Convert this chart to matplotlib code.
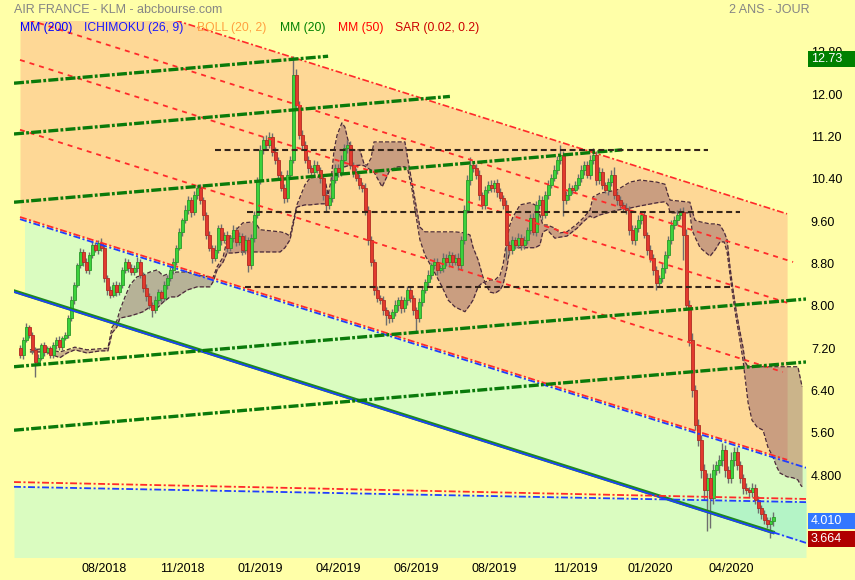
import matplotlib.pyplot as plt
import numpy as np
from matplotlib.patches import Rectangle
from matplotlib.transforms import blended_transform_factory

plt.rcParams['font.family'] = ['Liberation Sans', 'DejaVu Sans']
plt.rcParams['lines.scale_dashes'] = False

# --- daily candles (index = trading session, one bar every session shown) ---
first_open = 7.20
closes = [
    7.07, 7.36, 7.60, 7.45, 7.17, 6.94, 7.02, 7.26, 7.13, 7.20, 7.07, 7.26,
    7.36, 7.22, 7.39, 7.45, 7.77, 8.11, 8.40, 8.77, 9.02, 8.83, 8.68, 8.96,
    9.15, 9.06, 9.19, 9.10, 8.53, 8.30, 8.21, 8.40, 8.26, 8.40, 8.68, 8.83,
    8.72, 8.64, 8.72, 8.83, 8.58, 8.34, 8.19, 8.02, 7.92, 8.11, 8.26, 8.15,
    8.40, 8.53, 8.68, 8.83, 9.10, 9.40, 9.62, 9.81, 10.00, 9.78, 10.10, 10.23,
    10.00, 9.72, 9.34, 9.10, 8.91, 9.06, 9.47, 9.25, 9.34, 9.10, 9.28, 9.44,
    9.21, 9.32, 9.06, 9.25, 8.77, 9.28, 9.72, 10.38, 10.95, 11.14, 11.04, 11.19,
    10.91, 10.76, 10.47, 10.23, 10.04, 10.47, 10.76, 12.37, 11.80, 11.23, 11.04, 10.76,
    10.61, 10.53, 10.66, 10.57, 10.42, 10.10, 9.91, 10.04, 10.38, 10.61, 10.53, 10.76,
    10.98, 11.04, 10.66, 10.53, 10.42, 10.29, 10.23, 9.81, 9.25, 8.83, 8.30, 8.15,
    8.11, 7.92, 7.83, 7.77, 7.89, 8.02, 8.11, 7.96, 8.11, 8.30, 8.15, 7.92,
    7.77, 8.07, 8.30, 8.45, 8.58, 8.77, 8.83, 8.68, 8.72, 8.91, 8.83, 8.96,
    8.83, 8.91, 8.77, 9.25, 9.81, 10.38, 10.66, 10.61, 10.47, 10.10, 9.91, 10.19,
    10.29, 10.23, 10.32, 10.15, 10.04, 9.91, 9.15, 9.06, 9.25, 9.15, 9.28, 9.15,
    9.25, 9.44, 9.66, 9.40, 9.91, 10.00, 9.72, 10.10, 10.29, 10.42, 10.57, 10.76,
    10.85, 10.00, 10.10, 10.23, 10.19, 10.29, 10.42, 10.57, 10.66, 10.47, 10.76, 10.85,
    10.38, 10.53, 10.29, 10.19, 10.34, 10.47, 10.10, 10.00, 9.91, 9.85, 9.81, 9.44,
    9.25, 9.47, 9.62, 9.72, 9.34, 9.06, 8.91, 8.68, 8.43, 8.53, 8.72, 8.96,
    9.25, 9.53, 9.62, 9.72, 9.78, 9.34, 8.02, 7.36, 6.41, 5.75, 5.47, 4.90,
    4.52, 4.75, 4.37, 4.90, 4.99, 5.09, 5.28, 4.90, 4.75, 5.09, 5.24, 4.99,
    4.75, 4.56, 4.52, 4.48, 4.56, 4.33, 4.18, 4.07, 3.95, 3.88, 3.93, 4.01,
]
# shadows above / below the body, in cents
wick_hi = [
    6, 5, 8, 4, 6, 5, 7, 4, 6, 5, 4, 6,
    5, 7, 4, 6, 5, 8, 6, 5, 7, 6, 8, 5,
    7, 6, 5, 9, 6, 5, 8, 6, 7, 5, 6, 8,
    5, 7, 6, 9, 5, 6, 7, 5, 6, 8, 6, 5,
    7, 6, 5, 8, 6, 7, 5, 9, 8, 6, 7, 5,
    8, 6, 5, 7, 6, 9, 5, 8, 6, 7, 5, 8,
    6, 7, 5, 9, 6, 8, 7, 6, 10, 8, 9, 10,
    7, 9, 6, 8, 7, 9, 8, 36, 10, 8, 9, 7,
    8, 6, 9, 7, 6, 8, 7, 6, 9, 8, 7, 9,
    8, 10, 7, 6, 8, 7, 6, 9, 7, 8, 6, 7,
    6, 8, 5, 7, 6, 9, 5, 7, 6, 8, 7, 5,
    6, 8, 7, 6, 9, 5, 8, 7, 6, 9, 7, 8,
    6, 7, 9, 8, 10, 9, 15, 8, 7, 9, 6, 8,
    7, 9, 6, 8, 7, 6, 9, 7, 8, 6, 9, 7,
    8, 6, 7, 9, 8, 10, 7, 8, 9, 7, 10, 8,
    19, 8, 7, 9, 6, 8, 7, 9, 8, 7, 10, 13,
    8, 9, 7, 6, 8, 9, 16, 7, 8, 6, 9, 7,
    8, 6, 9, 7, 8, 6, 9, 7, 8, 6, 9, 8,
    7, 9, 8, 10, 8, 9, 12, 10, 12, 10, 11, 9,
    12, 10, 9, 11, 8, 10, 12, 9, 8, 15, 10, 9,
    8, 7, 9, 6, 10, 7, 8, 6, 7, 6, 8, 10,
]
wick_lo = [
    5, 7, 4, 6, 8, 28, 6, 5, 7, 4, 6, 5,
    7, 5, 6, 4, 5, 6, 7, 5, 6, 8, 5, 7,
    6, 5, 8, 6, 7, 9, 6, 5, 8, 6, 7, 5,
    8, 6, 5, 7, 6, 8, 9, 7, 13, 6, 8, 7,
    6, 8, 5, 7, 6, 5, 8, 6, 7, 9, 6, 8,
    7, 9, 8, 6, 10, 7, 6, 9, 7, 8, 6, 7,
    8, 6, 9, 7, 12, 8, 7, 6, 8, 7, 9, 6,
    8, 7, 9, 6, 10, 7, 8, 5, 9, 7, 8, 6,
    9, 7, 8, 6, 9, 10, 12, 7, 8, 6, 9, 7,
    6, 8, 7, 9, 6, 8, 7, 9, 10, 8, 9, 7,
    8, 10, 20, 9, 7, 8, 12, 9, 7, 10, 8, 9,
    28, 7, 8, 6, 9, 7, 8, 10, 6, 8, 7, 9,
    8, 6, 9, 7, 8, 6, 9, 7, 8, 9, 7, 8,
    6, 8, 7, 9, 6, 8, 28, 9, 7, 8, 6, 9,
    7, 8, 9, 6, 8, 7, 9, 6, 8, 7, 6, 8,
    7, 30, 8, 9, 7, 6, 8, 7, 9, 6, 8, 7,
    9, 7, 8, 6, 9, 7, 8, 9, 6, 8, 7, 10,
    8, 9, 7, 8, 6, 9, 8, 10, 13, 8, 7, 9,
    6, 8, 7, 9, 8, 47, 10, 12, 14, 10, 12, 15,
    18, 77, 57, 12, 10, 15, 11, 13, 10, 9, 12, 10,
    9, 11, 8, 10, 9, 8, 10, 9, 8, 7, 27, 9,
]

# --- ichimoku cloud envelope ---
cloud_k = [3.3, 8.3, 13.3, 15.7, 18.3, 22.3, 26.7, 29.3, 30.7, 32.3,
           33.3, 35.0, 36.7, 39.0, 41.0, 43.3, 45.7, 47.7, 50.0, 52.3,
           55.7, 59.0, 63.3, 64.3, 65.7, 67.7, 69.0, 71.0, 74.3, 78.3,
           80.0, 86.7, 88.3, 90.0, 92.3, 95.0, 96.7, 100.0, 101.7, 102.7,
           103.7, 104.7, 105.7, 107.3, 108.3, 109.3, 111.0, 113.3, 114.7, 115.7,
           117.0, 118.0, 120.7, 123.3, 126.0, 128.3, 129.3, 130.7, 131.7, 133.3,
           135.0, 138.3, 140.7, 142.7, 145.0, 148.3, 150.0, 151.0, 152.7, 154.3,
           155.0, 156.7, 158.3, 160.0, 161.0, 162.3, 163.3, 164.3, 166.7, 170.0,
           171.7, 173.3, 174.3, 175.7, 178.3, 180.0, 182.3, 185.7, 187.7, 190.0,
           191.0, 193.3, 199.0, 203.3, 206.7, 212.3, 215.0, 216.0, 216.7, 223.3,
           224.0, 225.0, 226.7, 230.0, 231.7, 233.3, 234.7, 235.7, 236.7, 237.7,
           238.7, 239.7, 241.0, 241.7, 242.7, 244.0, 245.7, 247.7, 249.3, 251.0,
           252.3, 253.3, 255.7, 257.7, 259.3, 260.0, 260.7]
cloud_top = [7.17, 7.19, 7.13, 7.17, 7.22, 7.17, 7.19, 7.20, 7.60, 7.72,
             7.92, 8.17, 8.40, 8.55, 8.58, 8.64, 8.68, 8.57, 8.62, 8.64,
             8.64, 8.58, 8.55, 8.53, 8.74, 8.92, 9.25, 9.38, 9.57, 9.59,
             9.44, 9.40, 9.38, 9.32, 9.91, 10.29, 10.42, 10.44, 10.38, 10.10,
             10.38, 10.95, 11.23, 11.46, 11.38, 11.14, 10.95, 10.95, 10.68, 10.66,
             10.79, 11.10, 11.10, 11.10, 11.10, 11.10, 10.76, 10.32, 10.00, 9.49,
             9.40, 9.40, 9.40, 9.40, 9.40, 9.38, 9.34, 9.11, 8.87, 8.55,
             8.45, 8.49, 8.49, 8.58, 8.77, 9.25, 9.53, 9.68, 9.91, 9.95,
             9.91, 9.72, 9.53, 9.53, 9.47, 9.38, 9.40, 9.55, 9.66, 9.81,
             10.06, 10.13, 10.19, 10.34, 10.38, 10.34, 10.30, 10.10, 10.00, 9.96,
             9.81, 9.62, 9.59, 9.55, 9.55, 9.53, 9.40, 9.25, 8.72, 8.30,
             7.92, 7.60, 7.22, 6.94, 6.85, 6.85, 6.85, 6.85, 6.85, 6.85,
             6.85, 6.85, 6.85, 6.85, 6.85, 6.66, 6.47]
cloud_bot = [7.13, 7.13, 7.02, 7.11, 7.17, 7.11, 7.15, 7.15, 7.49, 7.60,
             7.77, 7.79, 7.81, 7.85, 7.89, 7.98, 7.96, 8.07, 8.17, 8.17,
             8.30, 8.36, 8.36, 8.45, 8.68, 8.83, 9.00, 9.00, 9.02, 9.02,
             9.02, 9.02, 9.10, 9.25, 9.87, 9.91, 9.91, 9.93, 9.93, 9.93,
             10.00, 10.29, 10.53, 10.63, 10.63, 10.65, 10.65, 10.66, 10.65, 10.61,
             10.57, 10.53, 10.25, 10.57, 10.63, 10.63, 10.57, 10.19, 9.81, 9.25,
             8.96, 8.62, 8.36, 8.11, 7.98, 7.89, 8.02, 8.11, 8.36, 8.45,
             8.43, 8.26, 8.24, 8.30, 8.40, 8.72, 9.10, 9.10, 9.10, 9.10,
             9.10, 9.15, 9.40, 9.44, 9.28, 9.30, 9.32, 9.47, 9.59, 9.70,
             9.66, 9.72, 9.81, 9.85, 9.89, 9.95, 9.97, 9.91, 9.76, 9.76,
             9.44, 9.30, 9.10, 8.94, 9.06, 9.21, 9.21, 9.02, 8.57, 8.15,
             7.77, 7.45, 6.98, 6.64, 6.17, 5.84, 5.71, 5.65, 5.33, 5.14,
             4.95, 4.84, 4.77, 4.75, 4.71, 4.63, 4.58]

# --- drawn trend channel (session index, price) ---
upper_k, upper_p = [0, 255.7], [14.33, 9.74]
mid_lines = [([0, 257.7], [13.46, 8.83]),
             ([0, 255.7], [12.65, 8.06]),
             ([0, 254.3], [11.33, 6.75])]
lower_red_k, lower_red_p = [0, 255.7], [9.68, 5.09]
lower_blue_k, lower_blue_p = [0, 262], [9.64, 4.94]
support_k, support_p = [-2, 251, 262], [8.28, 3.72, 3.52]
# rising green lines
green_lines = [([-2, 102.7], [12.21, 12.72]),
               ([-2, 143.3], [11.25, 11.96]),
               ([-2, 200.7], [9.96, 10.95]),
               ([-2, 262], [6.85, 8.13]),
               ([-2, 262], [5.65, 6.94])]
base_k = [-2, 262]
base_red = [4.67, 4.35]
base_blue = [4.58, 4.29]
# horizontal levels
levels = [10.95, 9.78, 8.36]
level_from = [65, 75.7, 75]
level_to = [229.3, 240, 236.7]

tick_k = [28, 54, 80, 106, 132, 158, 185, 210, 237]
tick_lbl = ['08/2018', '11/2018', '01/2019', '04/2019', '06/2019',
            '08/2019', '11/2019', '01/2020', '04/2020']
ytick_v = [12.8, 12.0, 11.2, 10.4, 9.6, 8.8, 8.0, 7.2, 6.4, 5.6, 4.8]
ytick_lbl = ['12.80', '12.00', '11.20', '10.40', '9.60', '8.80', '8.00',
             '7.20', '6.40', '5.60', '4.800']
tags = [(12.73, '12.73', '#008000'), (4.010, '4.010', '#3377ff'),
        (3.664, '3.664', '#b00000')]

BG = '#ffffa8'
fig = plt.figure(figsize=(8.55, 5.8), dpi=100, facecolor=BG)
ax = fig.add_axes([14 / 855, 23 / 580, 792 / 855, 536 / 580])
ax.set_facecolor(BG)
ax.set_xlim(-2, 262)
ax.set_ylim(3.253, 13.386)
for s in ax.spines.values():
    s.set_visible(False)

# zones
ax.fill_between(upper_k, lower_red_p, upper_p, color='#fed896', lw=0, zorder=1)
xs = np.linspace(1.5, 262, 300)
ax.fill_between(xs, np.interp(xs, support_k, support_p),
                np.interp(xs, lower_blue_k, lower_blue_p),
                color='#dafcc0', lw=0, zorder=1)
xb = np.linspace(-2, 262, 300)
hb = np.interp(xb, base_k, base_blue)
sb = np.interp(xb, support_k, support_p)
ax.fill_between(xb, 3.0, hb, color='#dafcc0', lw=0, zorder=1)
ax.fill_between(xb, sb, hb, where=sb < hb, interpolate=True,
                color='#b4f4c6', lw=0, zorder=1.1)

# cloud
ax.fill_between(cloud_k, cloud_bot, cloud_top, color=(0.55, 0.35, 0.40),
                alpha=0.45, lw=0, zorder=2)
ax.plot(cloud_k, cloud_top, color='#4a2a3a', lw=0.9, ls=(0, (3, 1.5)), zorder=3)
ax.plot(cloud_k, cloud_bot, color='#4a2a3a', lw=0.9, ls=(0, (3, 1.5)), zorder=3)

# candles
c = np.array(closes)
o = np.array([first_open] + closes[:-1])
top = np.maximum(o, c)
bot = np.minimum(o, c)
hi = top + np.array(wick_hi) / 100
lo = bot - np.array(wick_lo) / 100
k = np.arange(len(closes))
up = c >= o
ax.vlines(k, lo, hi, color='#6e6e6e', lw=1, zorder=4)
h = np.maximum(top - bot, 0.03)
ax.bar(k[up], h[up], bottom=bot[up], width=1.0, color='#3cd23c',
       edgecolor='#2a9a2a', lw=0.6, zorder=5)
ax.bar(k[~up], h[~up], bottom=bot[~up], width=1.0, color='#e23a2e',
       edgecolor='#b22a22', lw=0.6, zorder=5)

# lines
dashdot = (0, (5, 1.8, 1.5, 1.8))
ax.plot(upper_k, upper_p, color='#ff2a2a', lw=1.2, ls=dashdot, zorder=6)
for lk, lp in mid_lines:
    ax.plot(lk, lp, color='#ff2a2a', lw=1.3, ls=(0, (3.6, 3.6)), zorder=6)
ax.plot(lower_red_k, lower_red_p, color='#ff2a2a', lw=1.3, ls=dashdot, zorder=6)
ax.plot(lower_blue_k, np.array(lower_blue_p), color='#1f3fff', lw=1.3,
        ls=dashdot, zorder=6)
ax.plot(support_k[:2], support_p[:2], color='#1e8a1e', lw=2.6, zorder=6)
ax.plot(support_k[:2], np.array(support_p[:2]) - 0.015, color='#1f3fff',
        lw=1.2, zorder=6)
ax.plot(support_k[1:], support_p[1:], color='#1f3fff', lw=1.3, ls=dashdot, zorder=6)
for lk, lp in green_lines:
    ax.plot(lk, lp, color='#0a7a0a', lw=2.4, ls=(0, (7.2, 1.6, 2.0, 1.6)), zorder=6)
ax.plot(base_k, base_red, color='#ff2a2a', lw=1.3, ls=dashdot, zorder=6)
ax.plot(base_k, base_blue, color='#1f3fff', lw=1.3, ls=dashdot, zorder=6)
for lv, a, b in zip(levels, level_from, level_to):
    ax.plot([a, b], [lv, lv], color='#33241a', lw=1.5, ls=(0, (4.3, 2.6)), zorder=6)

# axes
ax.yaxis.tick_right()
ax.set_yticks(ytick_v, ytick_lbl)
ax.set_xticks(tick_k, tick_lbl)
ax.tick_params(length=0, labelsize=9, colors='black')
ax.tick_params(axis='y', pad=3.5)
ax.tick_params(axis='x', pad=4.5)

# value tags on the right
tr = blended_transform_factory(fig.transFigure, ax.transData)
for v, s, col in tags:
    fig.add_artist(Rectangle((808 / 855, v - 0.07 - 0.15), 47 / 855, 0.30,
                             transform=tr, fc=col, ec='none'))
    fig.text(811 / 855, v - 0.07, s, transform=tr, color='white',
             size=9, va='center', ha='left')

# title and legend
fig.text(14 / 855, 1 - 10 / 580, 'AIR FRANCE - KLM - abcbourse.com',
         color='#858585', size=9, va='center')
fig.text(729 / 855, 1 - 10 / 580, '2 ANS - JOUR', color='#858585',
         size=9, va='center')
legend = [(20, 'MM (200)', '#0000ff'), (84, 'ICHIMOKU (26, 9)', '#1a1aff'),
          (197, 'BOLL (20, 2)', '#ffa040'), (280, 'MM (20)', '#008000'),
          (338, 'MM (50)', '#ff0000'), (395, 'SAR (0.02, 0.2)', '#cc0000')]
for x, s, col in legend:
    fig.text(x / 855, 1 - 28 / 580, s, color=col, size=8.7, va='center')

fig.savefig('out.png', dpi=100, facecolor=BG)
